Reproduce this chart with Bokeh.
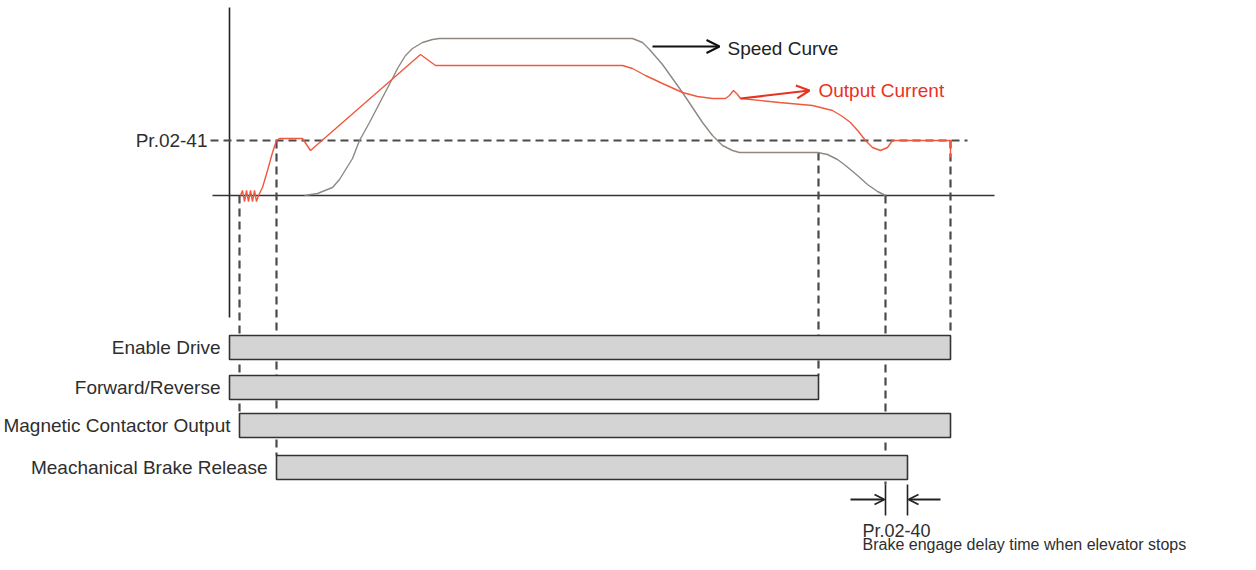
from bokeh.plotting import figure
from bokeh.models import Range1d, Arrow, OpenHead, ColumnDataSource
from bokeh.core.properties import value
from bokeh.embed import file_html
from bokeh.resources import INLINE

# ---------------- data (time t, level v above the zero line) ----------------
speed_t = [75, 88, 103, 110, 123, 130, 140, 153, 163, 168, 176, 183, 193, 203, 210,
           403, 413, 420, 433, 443, 453, 463, 473, 483, 493, 503, 510,
           588, 598, 608, 616, 628, 638, 648, 656]
speed_v = [0, 2, 8, 16, 37, 55, 73, 98, 117, 127, 140, 147, 153, 156, 157,
           157, 153, 146, 131, 117, 103, 88, 73, 60, 50, 45, 43,
           43, 41, 36, 30, 20, 11, 4, 0]

current_t = [11, 13, 15, 17, 19, 21, 23, 25, 27, 29, 33, 38, 43, 47, 50, 73, 81,
             191, 206, 393, 403, 416, 433, 453, 468, 483, 496, 500, 504, 508, 511,
             550, 583, 603, 613, 621, 629, 636, 643, 651, 658, 663, 721, 721]
current_v = [0, 5, -6, 5, -6, 5, -6, 5, -6, 0, 8, 25, 43, 55, 57, 57, 45,
             141, 130, 130, 127, 120, 112, 103, 99, 97, 97, 100, 105, 101, 97,
             93, 90, 85, 79, 73, 64, 55, 48, 45, 48, 55, 55, 38]

pr0241_level = 55          # Pr.02-41 current level
slow_speed_level = 43      # levelling speed before stop

signal_names = ["Enable Drive", "Forward/Reverse",
                "Magnetic Contactor Output", "Meachanical Brake Release"]
signal_on = [0, 0, 10, 47]
signal_off = [721, 589, 721, 678]

t_stop = 656               # speed reaches zero
t_brake = 678              # brake engaged (Pr.02-40 later)

# ---------------- figure ----------------
W, H = 1240, 554
p = figure(width=W, height=H, output_backend="svg", toolbar_location=None,
           x_range=Range1d(-229, 1011), y_range=Range1d(-359, 195),
           min_border=0, background_fill_color="white", border_fill_color="white")
p.axis.visible = False
p.grid.visible = False
p.outline_line_color = None

FONT = value("Liberation Sans")
FS = "19px"
TXT = "#2e2e2e"
DASH_C = "#4a4a4a"

row_center = [-152, -192, -230, -272]
row_h = 24
bar_top = [c + row_h / 2 for c in row_center]
bar_bot = [c - row_h / 2 for c in row_center]

# axes of the diagram
p.line([0, 0], [188, -122], line_color="#222222", line_width=1.6)
p.line([-17, 765], [0, 0], line_color="#333333", line_width=1.6)

# Pr.02-41 dashed level
p.line([-19, 738], [pr0241_level, pr0241_level], line_color=DASH_C,
       line_width=2.2, line_dash="8 5")

# dashed verticals
dash_x = [signal_on[2], signal_on[3], signal_off[1], t_stop, signal_off[0]]
dash_y0 = [0, pr0241_level, slow_speed_level, 0, pr0241_level]
dash_y1 = [bar_top[2], bar_top[3], bar_top[1], -289, bar_top[0]]
for x, y0, y1 in zip(dash_x, dash_y0, dash_y1):
    p.line([x, x], [y0, y1], line_color=DASH_C, line_width=2.2, line_dash="8 5")

# bars
src = ColumnDataSource(dict(left=signal_on, right=signal_off, top=bar_top, bottom=bar_bot))
p.quad(left="left", right="right", top="top", bottom="bottom", source=src,
       fill_color="#d4d4d4", line_color="#333333", line_width=1.6)

# curves
p.line(speed_t, speed_v, line_color="#8f8882", line_width=1.4)
p.line(current_t, current_v, line_color="#f0583f", line_width=1.4)

# labels for signals
for name, on, c in zip(signal_names, signal_on, row_center):
    p.text(x=[on - 9], y=[c], text=[name], text_align="right", text_baseline="middle",
           text_font=FONT, text_font_size=FS, text_color=TXT)

p.text(x=[-22], y=[pr0241_level], text=["Pr.02-41"], text_align="right",
       text_baseline="middle", text_font=FONT, text_font_size=FS, text_color=TXT)

# annotation arrows
p.add_layout(Arrow(end=OpenHead(size=13, line_color="#111111", line_width=2.2),
                   x_start=423, y_start=149, x_end=490, y_end=149,
                   line_color="#111111", line_width=2.2))
p.text(x=[498], y=[147], text=["Speed Curve"], text_align="left", text_baseline="middle",
       text_font=FONT, text_font_size=FS, text_color="#222222")

p.add_layout(Arrow(end=OpenHead(size=13, line_color="#e8321f", line_width=2.2),
                   x_start=511, y_start=97, x_end=580, y_end=105,
                   line_color="#e8321f", line_width=2.2))
p.text(x=[589], y=[105], text=["Output Current"], text_align="left", text_baseline="middle",
       text_font=FONT, text_font_size=FS, text_color="#e8321f")

# Pr.02-40 marker
for x in [t_stop, t_brake]:
    p.line([x, x], [-289, -320], line_color="#222222", line_width=1.6)
p.add_layout(Arrow(end=OpenHead(size=10, line_color="#222222", line_width=1.8),
                   x_start=621, y_start=-304, x_end=t_stop - 1, y_end=-304,
                   line_color="#222222", line_width=1.8))
p.add_layout(Arrow(end=OpenHead(size=10, line_color="#222222", line_width=1.8),
                   x_start=711, y_start=-304, x_end=t_brake + 1, y_end=-304,
                   line_color="#222222", line_width=1.8))
p.text(x=[633], y=[-335], text=["Pr.02-40"], text_align="left", text_baseline="alphabetic",
       text_font=FONT, text_font_size="18px", text_color=TXT)
p.text(x=[633], y=[-349], text=["Brake engage delay time when elevator stops"],
       text_align="left", text_baseline="alphabetic",
       text_font=FONT, text_font_size="16px", text_color=TXT)

open("out.html", "w").write(file_html(p, INLINE))
